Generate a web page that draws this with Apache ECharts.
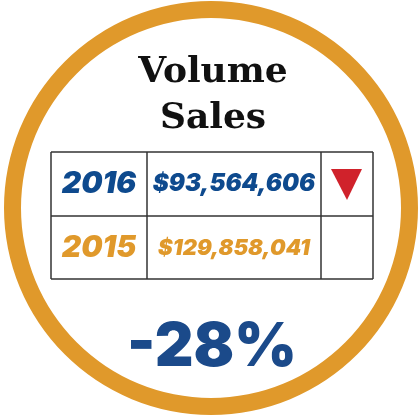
<!DOCTYPE html>
<html>
<head>
<meta charset="utf-8">
<script src="https://cdn.jsdelivr.net/npm/echarts@6/dist/echarts.min.js"></script>
<style>
  html, body { margin: 0; padding: 0; background: #fff; }
  #chart { width: 419px; height: 416px; }
</style>
</head>
<body>
<div id="chart"></div>
<script>
// data
const titleLines = ['Volume', 'Sales'];
const years = ['2016', '2015'];
const sales = [93564606, 129858041];

const blue = '#0e4a8e';
const orange = '#e0992b';

const chart = echarts.init(document.getElementById('chart'), null, { renderer: 'canvas' });

function money(v) {
  return '$' + v.toLocaleString('en-US');
}

const change = Math.round((sales[0] - sales[1]) / sales[1] * 100);
const changeText = (change > 0 ? '+' : '') + change + '%';

// table grid
const tx = [51, 147, 321, 373];
const ty = [152, 216, 279];
const lineStyle = { stroke: '#333', lineWidth: 1.5 };
const lines = [];
tx.forEach(x => lines.push({ type: 'line', shape: { x1: x, y1: ty[0], x2: x, y2: ty[2] }, style: lineStyle }));
ty.forEach(y => lines.push({ type: 'line', shape: { x1: tx[0], y1: y, x2: tx[3], y2: y }, style: lineStyle }));

const rowY = [184, 248];
const rowColor = [blue, orange];
const rowSize = [[30, 24], [30, 22]];
const texts = [];
years.forEach((yr, i) => {
  texts.push({
    type: 'text', x: 99, y: rowY[i],
    style: {
      text: yr, fill: rowColor[i], align: 'center', verticalAlign: 'middle',
      font: 'italic 900 ' + rowSize[i][0] + 'px Inter'
    }
  });
  texts.push({
    type: 'text', x: 234, y: rowY[i],
    style: {
      text: money(sales[i]), fill: rowColor[i], align: 'center', verticalAlign: 'middle',
      font: 'italic 900 ' + rowSize[i][1] + 'px Inter'
    }
  });
});

// down / up arrow for the latest year
const down = sales[0] < sales[1];
const arrow = {
  type: 'polygon',
  shape: {
    points: down ? [[331, 169], [362, 169], [347, 200]] : [[331, 200], [362, 200], [347, 169]]
  },
  style: { fill: down ? '#d0222b' : '#2a9a3a' }
};

const option = {
  backgroundColor: '#fff',
  animation: false,
  series: [{
    type: 'pie',
    center: [211, 208],
    radius: [190, 207],
    silent: true,
    label: { show: false },
    itemStyle: { color: orange },
    data: [{ value: 1, name: 'ring' }]
  }],
  graphic: [
    {
      type: 'text', x: 213, y: 73,
      style: {
        text: titleLines[0], fill: '#111', align: 'center', verticalAlign: 'middle',
        font: 'bold 36px "DejaVu Serif"'
      }
    },
    {
      type: 'text', x: 213, y: 119,
      style: {
        text: titleLines[1], fill: '#111', align: 'center', verticalAlign: 'middle',
        font: 'bold 36px "DejaVu Serif"'
      }
    },
    ...lines,
    ...texts,
    arrow,
    {
      type: 'text', x: 212, y: 348,
      style: {
        text: changeText, fill: '#1b4a8a', align: 'center', verticalAlign: 'middle',
        font: '900 60px Inter'
      }
    }
  ]
};

chart.setOption(option);
</script>
</body>
</html>
